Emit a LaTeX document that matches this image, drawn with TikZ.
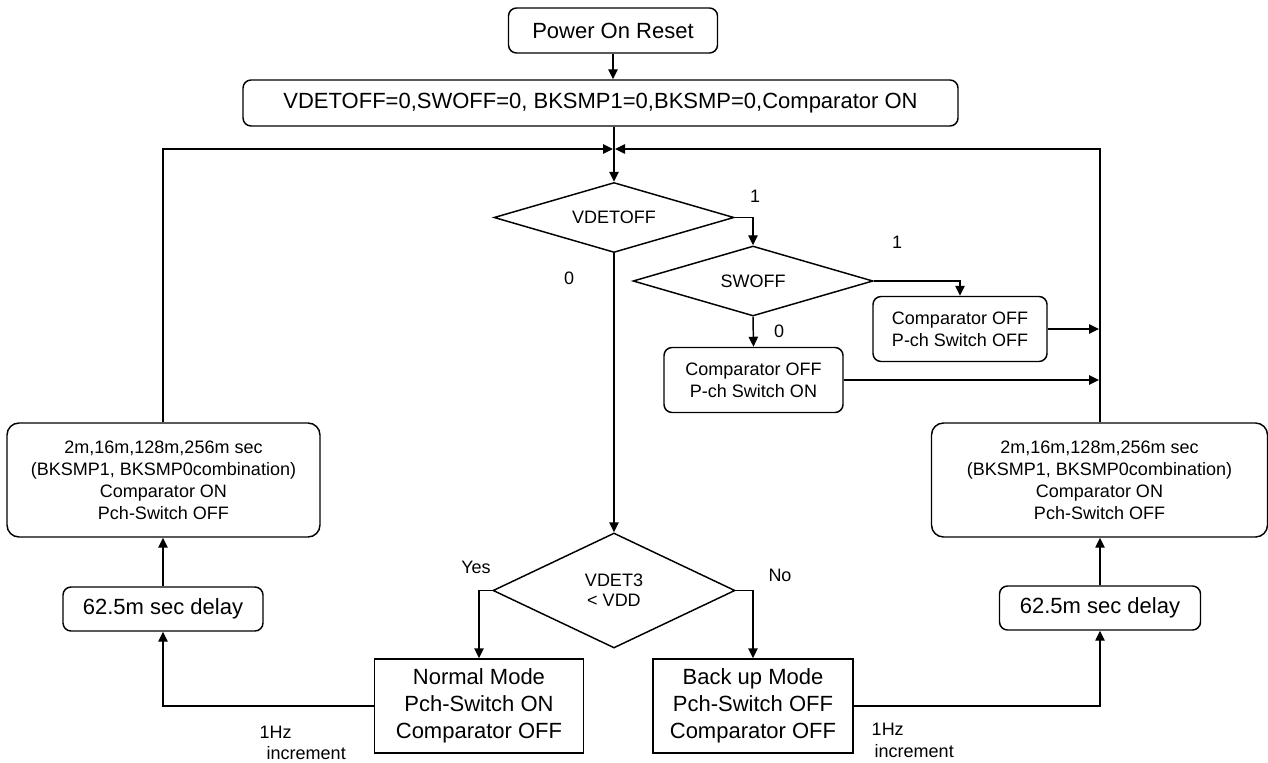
\documentclass[tikz,border=0pt]{standalone}
\usepackage{fontspec}
\setmainfont{Liberation Sans}
\usetikzlibrary{shapes.geometric,arrows.meta}
\begin{document}
\begin{tikzpicture}[x=0.75pt,y=-0.75pt,
  line width=1.1pt,
  bigfont/.style={font=\fontsize{16.5pt}{20.25pt}\selectfont},
  smallfont/.style={font=\fontsize{13.5pt}{16.5pt}\selectfont},
  rbox/.style={draw, rounded corners=6pt, align=center, inner sep=0pt},
  sbox/.style={draw, align=center, inner sep=0pt, bigfont},
  dec/.style={draw, diamond, inner sep=0pt},
  dectext/.style={align=center, inner sep=0pt, smallfont},
  arr/.style={-{Triangle[length=7.5pt,width=7pt]}},
  lbl/.style={smallfont, inner sep=0pt}
]
\useasboundingbox (0,0) rectangle (1268,763);

% nodes
\node[rbox, bigfont, minimum width=156.75pt, minimum height=33.75pt] (por) at (613,30.5) {Power On Reset};
\node[rbox, bigfont, minimum width=536.25pt, minimum height=34.5pt] (init) at (600.5,103) {VDETOFF=0,SWOFF=0, BKSMP1=0,BKSMP=0,Comparator ON};
\node[dec, minimum width=180pt, minimum height=52.5pt] (vdetoff) at (614,217.5) {};
\node[dectext] (vdetofft) at (vdetoff.center) {VDETOFF};
\node[dec, minimum width=180pt, minimum height=52.5pt] (swoff) at (753,281) {};
\node[dectext] (swofft) at (swoff.center) {SWOFF};
\node[rbox, smallfont, minimum width=134.25pt, minimum height=48.75pt] (boxon) at (753.5,380) {Comparator OFF\\P-ch Switch ON};
\node[rbox, smallfont, minimum width=130.5pt, minimum height=48.75pt] (boxoff) at (960,329) {Comparator OFF\\P-ch Switch OFF};
\node[dec, minimum width=181.5pt, minimum height=86.25pt] (vdet) at (614,590.5) {};
\node[dectext, font=\fontsize{13.5pt}{15pt}\selectfont] (vdett) at (vdet.center) {VDET3\\< VDD};
\node[sbox, minimum width=156.75pt, minimum height=70.5pt] (normal) at (479,706) {Normal Mode\\Pch-Switch ON\\Comparator OFF};
\node[sbox, minimum width=150pt, minimum height=70.5pt] (backup) at (753,706) {Back up Mode\\Pch-Switch OFF\\Comparator OFF};
\node[rbox, rounded corners=9pt, smallfont, minimum width=234.75pt, minimum height=85.5pt] (lbig) at (163.5,480) {2m,16m,128m,256m sec\\(BKSMP1, BKSMP0combination)\\Comparator ON\\Pch-Switch OFF};
\node[rbox, bigfont, minimum width=150pt, minimum height=33pt] (ldelay) at (163,609) {62.5m sec delay};
\node[rbox, rounded corners=9pt, smallfont, minimum width=252pt, minimum height=85.5pt] (rbig) at (1099.5,480) {2m,16m,128m,256m sec\\(BKSMP1, BKSMP0combination)\\Comparator ON\\Pch-Switch OFF};
\node[rbox, bigfont, minimum width=150.75pt, minimum height=33pt] (rdelay) at (1100,608) {62.5m sec delay};

\coordinate (jl) at (613,149);
\coordinate (jr) at (615,149);

% labels
\node[lbl] (l1a) at (755,196) {1};
\node[lbl] (l0a) at (569,278) {0};
\node[lbl] (l1b) at (897,242) {1};
\node[lbl] (l0b) at (779,331) {0};
\node[lbl] (lyes) at (476,567) {Yes};
\node[lbl] (lno) at (780,575) {No};
\node[lbl, anchor=west] (hz1) at (259,732) {1Hz};
\node[lbl, anchor=west] (inc1) at (266,753) {increment};
\node[lbl, anchor=west] (hz2) at (871,729) {1Hz};
\node[lbl, anchor=west] (inc2) at (874,751) {increment};

% connectors
\draw[arr] (por.south) -- (por.south |- init.north);
\draw[arr] (init.south -| vdetoff.north) -- (vdetoff.north);
\draw[arr] (lbig.north -| 163,0) |- (jl);
\draw[arr] (rbig.north -| 1100,0) |- (jr);
\draw[arr] (vdetoff.east) -| (swoff.north);
\draw[arr] (swoff.east) -| (boxoff.north);
\draw[arr] (swoff.south) -- (boxon.north);
\draw[arr] (vdetoff.south) -- (vdet.north);
\draw[arr] (boxoff.east) -- (boxoff.east -| 1099,0);
\draw[arr] (boxon.east) -- (boxon.east -| 1099,0);
\draw[arr] (vdet.west) -| (normal.north);
\draw[arr] (vdet.east) -| (backup.north);
\draw[arr] (normal.west) -| (ldelay.south);
\draw[arr] (ldelay.north) -- (ldelay.north |- lbig.south);
\draw[arr] (backup.east) -| (rdelay.south);
\draw[arr] (rdelay.north) -- (rdelay.north |- rbig.south);
\end{tikzpicture}
\end{document}
